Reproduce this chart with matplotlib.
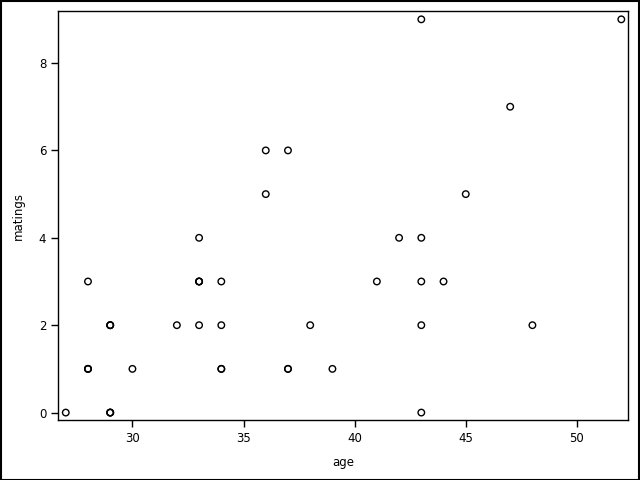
import matplotlib
matplotlib.use("Agg")
import matplotlib.pyplot as plt
from matplotlib.patches import Rectangle

# elephant age vs number of matings
age = [27, 28, 28, 28, 28, 29, 29, 29, 29, 29, 29, 30, 32, 33, 33, 33, 33, 33,
       34, 34, 34, 34, 36, 36, 37, 37, 37, 38, 39, 41, 42, 43, 43, 43, 43, 43,
       44, 45, 47, 48, 52]
matings = [0, 1, 1, 1, 3, 0, 0, 0, 2, 2, 2, 1, 2, 4, 3, 3, 3, 2,
           1, 1, 2, 3, 5, 6, 1, 1, 6, 2, 1, 3, 4, 0, 2, 3, 4, 9,
           3, 5, 7, 2, 9]

fig = plt.figure(figsize=(6.4, 4.8), dpi=100)
ax = fig.add_axes([0.0906, 0.125, 0.8906, 0.852])
ax.scatter(age, matings, s=22, facecolors='none', edgecolors='black', linewidths=1)

ax.set_xlim(26.65, 52.3)
ax.set_ylim(-0.17, 9.19)
ax.set_xticks([30, 35, 40, 45, 50])
ax.set_yticks([0, 2, 4, 6, 8])
ax.tick_params(direction='out', length=5, width=1, labelsize=8.5, colors='black')
for s in ax.spines.values():
    s.set_linewidth(1)
ax.set_xlabel('age', fontsize=8.5, labelpad=8)
ax.set_ylabel('matings', fontsize=8.5, labelpad=10)

fig.patches.append(Rectangle((0.001, 0.001), 0.997, 0.997, transform=fig.transFigure,
                             fill=False, edgecolor='black', linewidth=1.5))

fig.savefig('out.png', dpi=100)
